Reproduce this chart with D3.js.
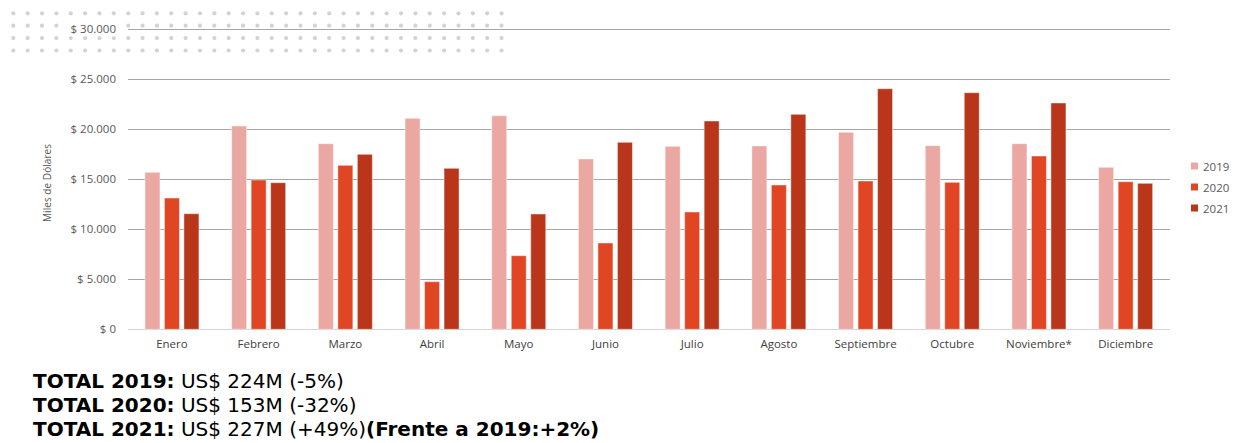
<!DOCTYPE html>
<html>
<head>
<meta charset="utf-8">
<script src="https://cdn.jsdelivr.net/npm/d3@7/dist/d3.min.js"></script>
<style>
  html, body { margin: 0; padding: 0; background: #fff; }
  svg { display: block; }
</style>
</head>
<body>
<script>
var months = ["Enero", "Febrero", "Marzo", "Abril", "Mayo", "Junio", "Julio",
              "Agosto", "Septiembre", "Octubre", "Noviembre*", "Diciembre"];
var years = ["2019", "2020", "2021"];

var values2019 = [15700, 20330, 18560, 21100, 21360, 17030, 18300, 18330, 19700, 18360, 18560, 16200];
var values2020 = [13130, 14930, 16400, 4760, 7360, 8630, 11730, 14430, 14830, 14700, 17330, 14760];
var values2021 = [11560, 14660, 17500, 16100, 11530, 18700, 20830, 21500, 24060, 23660, 22630, 14600];

var yTicks = [0, 5000, 10000, 15000, 20000, 25000, 30000];

var totals = [
    { bold: "TOTAL 2019:", rest: " US$ 224M (-5%)", tail: "" },
    { bold: "TOTAL 2020:", rest: " US$ 153M (-32%)", tail: "" },
    { bold: "TOTAL 2021:", rest: " US$ 227M (+49%)", tail: "(Frente a 2019:+2%)" }
];

var colors = ["#eba7a2", "#e14624", "#b9361a"];

var W = 1238, H = 443;
var svg = d3.select("body").append("svg").attr("width", W).attr("height", H);

// dotted decoration top-left
var dotCols = d3.range(35), dotRows = d3.range(4);
var deco = svg.append("g");
dotRows.forEach(function (r) {
    deco.selectAll(null)
        .data(dotCols)
        .enter()
        .append("circle")
            .attr("cx", function (c) { return 13.3 + c * 14.36; })
            .attr("cy", 13.3 + r * 12.4)
            .attr("r", 2.1)
            .attr("fill", "#d3d3d3");
});

var x = d3.scaleBand().domain(months).range([128.6, 1169]).paddingInner(0).paddingOuter(0);
var y = d3.scaleLinear().domain([0, 30000]).range([329.3, 29.3]);
var fmt = function (v) { return "$ " + d3.format(",")(v).replace(/,/g, "."); };

// gridlines
svg.append("g")
    .selectAll("line")
    .data(yTicks)
    .enter()
    .append("line")
        .attr("x1", 128).attr("x2", 1170)
        .attr("y1", function (d) { return Math.round(y(d)) + 0.5; })
        .attr("y2", function (d) { return Math.round(y(d)) + 0.5; })
        .attr("stroke", function (d) { return d === 0 ? "#d4d4d4" : "#a6a6a6"; })
        .attr("stroke-width", 1);

// y labels (white box behind, hides dots)
var yl = svg.append("g").selectAll("g").data(yTicks).enter().append("g");
yl.append("rect")
    .attr("x", 67).attr("width", 51)
    .attr("y", function (d) { return y(d) - 8; }).attr("height", 15)
    .attr("fill", function (d) { return d === 30000 ? "#fff" : "none"; });
yl.append("text")
    .attr("x", 116)
    .attr("y", function (d) { return y(d) + 4; })
    .attr("text-anchor", "end")
    .attr("font-family", "Open Sans")
    .attr("font-size", 11.5)
    .attr("fill", "#595959")
    .text(fmt);

svg.append("text")
    .attr("transform", "translate(51,183) rotate(-90)")
    .attr("text-anchor", "middle")
    .attr("font-family", "Open Sans")
    .attr("font-size", 10)
    .attr("fill", "#595959")
    .attr("textLength", 78)
    .text("Miles de Dólares");

// bars
var series = [values2019, values2020, values2021];
var barW = 15, barGap = 19.5;
var bars = svg.append("g");
series.forEach(function (vals, si) {
    bars.selectAll(null)
        .data(vals)
        .enter()
        .append("rect")
            .attr("x", function (d, i) { return x(months[i]) + x.bandwidth() / 2 + (si - 1) * barGap - barW / 2; })
            .attr("y", function (d) { return y(d); })
            .attr("width", barW)
            .attr("height", function (d) { return y(0) - y(d); })
            .attr("fill", colors[si])
            .attr("stroke", "#fff")
            .attr("stroke-opacity", 0.45)
            .attr("stroke-width", 1);
});

// month labels
svg.append("g")
    .selectAll("text")
    .data(months)
    .enter()
    .append("text")
        .attr("x", function (d) { return x(d) + x.bandwidth() / 2; })
        .attr("y", 348)
        .attr("text-anchor", "middle")
        .attr("font-family", "Open Sans")
        .attr("font-size", 11.5)
        .attr("fill", "#404040")
        .text(function (d) { return d; });

// legend
var lg = svg.append("g").selectAll("g").data(years).enter().append("g")
    .attr("transform", function (d, i) { return "translate(1191," + (166 + i * 21) + ")"; });
lg.append("rect").attr("x", 0).attr("y", -3.5).attr("width", 7).attr("height", 7)
    .attr("fill", function (d, i) { return colors[i]; });
lg.append("text").attr("x", 12).attr("y", 4.5)
    .attr("font-family", "Open Sans").attr("font-size", 11.5).attr("fill", "#595959")
    .text(function (d) { return d; });

// totals
var tt = svg.append("g").selectAll("text").data(totals).enter().append("text")
    .attr("x", 33)
    .attr("y", function (d, i) { return 388 + i * 24; })
    .attr("font-family", "DejaVu Sans")
    .attr("font-size", 20)
    .attr("fill", "#000");
tt.append("tspan").attr("font-weight", "bold").text(function (d) { return d.bold; });
tt.append("tspan").text(function (d) { return d.rest; });
tt.append("tspan").attr("font-weight", "bold").text(function (d) { return d.tail; });
</script>
</body>
</html>
